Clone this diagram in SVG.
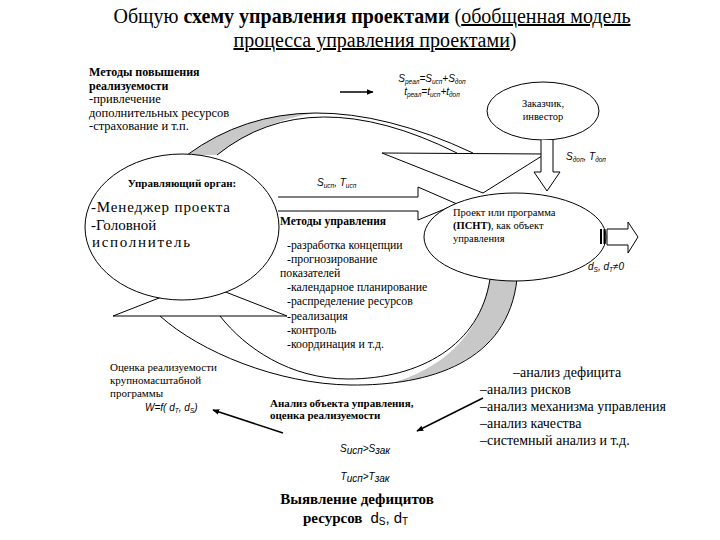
<svg xmlns="http://www.w3.org/2000/svg" width="720" height="540" viewBox="0 0 720 540">
<defs>
<marker id="ah" viewBox="0 0 10 10" refX="9" refY="5" markerWidth="7" markerHeight="7" markerUnits="userSpaceOnUse" orient="auto"><path d="M0,1 L10,5 L0,9 Z" fill="#000"/></marker>
<style>
.t{font-size:20px}
.b{font-weight:bold}
.f{font-family:'Liberation Sans',Arial,sans-serif;font-style:italic;font-size:10px}
.sub{font-size:6.5px}
.ln{fill:none;stroke:#000;stroke-width:1}
.wf{fill:#fff;stroke:#000;stroke-width:1}
.gr{fill:#c8c8c8;stroke:none}
.cn{fill:none;stroke:#000;stroke-width:1.5}
</style>
</defs>
<rect width="720" height="540" fill="#fff"/>
<g font-family="Liberation Serif, DejaVu Serif, serif" fill="#000">

<g id="title">
<text class="t" x="372" y="23" text-anchor="middle">Общую <tspan class="b">схему управления проектами</tspan> (<tspan text-decoration="underline">обобщенная модель</tspan></text>
<text class="t" x="375" y="47" text-anchor="middle"><tspan text-decoration="underline">процесса управления проектами</tspan>)</text>
</g>

<g id="methods-feasibility">
<text class="b" font-size="12" x="89" y="76">Методы повышения</text>
<text class="b" font-size="12" x="89" y="90">реализуемости</text>
<text font-size="12.5" x="89" y="103">-привлечение</text>
<text font-size="12.5" x="89" y="117">дополнительных ресурсов</text>
<text font-size="12.5" x="89" y="130">-страхование и т.п.</text>
</g>

<g id="formula-real">
<text class="f" x="432" y="82" text-anchor="middle">S<tspan class="sub" dy="2">реал</tspan><tspan dy="-2">=S</tspan><tspan class="sub" dy="2">исп</tspan><tspan dy="-2">+S</tspan><tspan class="sub" dy="2">доп</tspan></text>
<text class="f" x="432" y="95" text-anchor="middle">t<tspan class="sub" dy="2">реал</tspan><tspan dy="-2">=t</tspan><tspan class="sub" dy="2">исп</tspan><tspan dy="-2">+t</tspan><tspan class="sub" dy="2">доп</tspan></text>
</g>

<g id="arrow-top">
<path class="gr" d="M187,155 Q243.5,113.5 315,113 Q262,121 217,155 Z"/>
<path class="ln" d="M187,155 Q300,72 473,153"/>
<path class="ln" d="M217,155 Q310,80 457,153"/>
<polygon class="wf" points="382,153 545,154 483,193"/>
</g>

<g id="arrow-bottom">
<path class="gr" d="M490,279 L517,279 C510,340 465,374 388,384 C440,370 479,338 490,279 Z"/>
<path class="ln" d="M517,279 C508,362 430,386 350,385 C278,384 200,352 160,316"/>
<path class="ln" d="M490,279 C480,345 420,379 348,379 C290,379 245,348 220,316"/>
<polygon class="wf" points="113,316 287,316 200,282"/>
</g>

<g id="organ">
<ellipse class="wf" cx="182" cy="227" rx="97" ry="73"/>
<text class="b" font-size="11" x="182" y="187" text-anchor="middle">Управляющий орган:</text>
<text x="91" y="212" font-size="15" textLength="139" lengthAdjust="spacing">-Менеджер проекта</text>
<text x="91" y="229.5" font-size="15">-Головной</text>
<text x="92" y="247" font-size="15" textLength="98" lengthAdjust="spacing">исполнитель</text>
</g>

<g id="arrow-exec">
<path class="wf" d="M278,197 H418 V187 L457,204 L418,220 V211 H278"/>
<text class="f" x="317" y="186">S<tspan class="sub" dy="2">исп</tspan><tspan dy="-2">, T</tspan><tspan class="sub" dy="2">исп</tspan></text>
</g>

<g id="customer">
<ellipse class="wf" cx="543" cy="111" rx="56" ry="29"/>
<text x="543" y="107" font-size="10.5" text-anchor="middle">Заказчик,</text>
<text x="543" y="120" font-size="10.5" text-anchor="middle">инвестор</text>
</g>

<g id="arrow-order">
<path class="wf" d="M541,140 V172 H534 L547,191 L560,172 H553 V140"/>
<text class="f" x="566" y="160">S<tspan class="sub" dy="2">доп</tspan><tspan dy="-2">, T</tspan><tspan class="sub" dy="2">доп</tspan></text>
</g>

<g id="project">
<ellipse class="wf" cx="515" cy="237" rx="91" ry="44"/>
<text font-size="10.5" x="453" y="216">Проект или программа</text>
<text font-size="10.5" x="453" y="229"><tspan class="b">(ПСНТ)</tspan>, как объект</text>
<text font-size="10.5" x="453" y="242">управления</text>
</g>

<g id="arrow-out">
<rect x="600" y="229" width="2" height="15" fill="#000"/>
<rect x="603.5" y="229" width="2" height="15" fill="#000"/>
<path class="wf" d="M607,229 H628 V222 L638,237 L628,253 V245 H607 Z"/>
<text class="f" x="588" y="270">d<tspan class="sub" dy="2">S</tspan><tspan dy="-2">, d</tspan><tspan class="sub" dy="2">T</tspan><tspan dy="-2">≠0</tspan></text>
</g>

<g id="methods-management">
<text class="b" font-size="11.5" x="280" y="225">Методы управления</text>
<text font-size="11.8" x="287" y="249">-разработка концепции</text>
<text font-size="11.8" x="287" y="263">-прогнозирование</text>
<text font-size="11.8" x="280" y="277">показателей</text>
<text font-size="11.8" x="287" y="291">-календарное планирование</text>
<text font-size="11.8" x="287" y="305">-распределение ресурсов</text>
<text font-size="11.8" x="287" y="320">-реализация</text>
<text font-size="11.8" x="287" y="334">-контроль</text>
<text font-size="11.8" x="287" y="348">-координация и т.д.</text>
</g>

<g id="feasibility-estimate">
<text x="110" y="371" font-size="11">Оценка реализуемости</text>
<text x="110" y="384" font-size="11">крупномасштабной</text>
<text x="110" y="397" font-size="11">программы</text>
<text class="f" x="145" y="411">W=f( d<tspan class="sub" dy="2">T</tspan><tspan dy="-2">, d</tspan><tspan class="sub" dy="2">S</tspan><tspan dy="-2">)</tspan></text>
</g>

<g id="analysis">
<text class="b" x="270" y="407" font-size="11">Анализ объекта управления,</text>
<text class="b" x="270" y="419" font-size="11">оценка реализуемости</text>
<text class="f" font-size="15" x="365" y="452" text-anchor="middle">S<tspan font-size="10" dy="2">исп</tspan><tspan dy="-2">&gt;S</tspan><tspan font-size="10" dy="2">зак</tspan></text>
<text class="f" font-size="15" x="365" y="480" text-anchor="middle">T<tspan font-size="10" dy="2">исп</tspan><tspan dy="-2">&gt;T</tspan><tspan font-size="10" dy="2">зак</tspan></text>
<text class="b" x="357" y="504" font-size="15" text-anchor="middle">Выявление дефицитов</text>
<text x="303" y="523" font-size="15"><tspan class="b">ресурсов</tspan><tspan font-family="Liberation Sans, Arial, sans-serif" font-size="15" dx="8">d</tspan><tspan font-family="Liberation Sans, Arial, sans-serif" font-size="10" dy="2">S</tspan><tspan font-family="Liberation Sans, Arial, sans-serif" font-size="15" dy="-2">, d</tspan><tspan font-family="Liberation Sans, Arial, sans-serif" font-size="10" dy="2">T</tspan></text>
</g>

<g id="analysis-list">
<text x="513" y="377" font-size="14">–анализ дефицита</text>
<text x="480" y="394" font-size="14">–анализ рисков</text>
<text x="480" y="411" font-size="14">–анализ механизма управления</text>
<text x="480" y="428" font-size="14">–анализ качества</text>
<text x="480" y="445" font-size="14">–системный анализ и т.д.</text>
</g>

<g id="connectors">
<line class="cn" x1="340" y1="92" x2="373" y2="92" marker-end="url(#ah)"/>
<line class="cn" x1="283" y1="433" x2="213" y2="410" marker-end="url(#ah)"/>
<line class="cn" x1="483" y1="398" x2="417" y2="431" marker-end="url(#ah)"/>
</g>
</g>
</svg>
